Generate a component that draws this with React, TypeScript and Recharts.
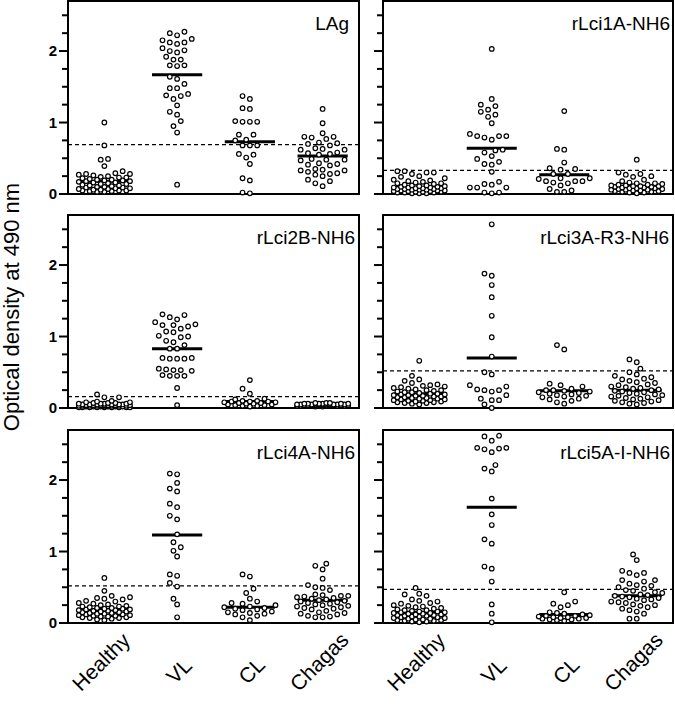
import React from "react";
import {
    ScatterChart,
    Scatter,
    XAxis,
    YAxis,
    ReferenceLine,
    ReferenceArea,
} from "recharts";

const CATEGORIES = ["Healthy", "VL", "CL", "Chagas"];
const TITLES = ["LAg", "rLci1A-NH6", "rLci2B-NH6", "rLci3A-R3-NH6", "rLci4A-NH6", "rLci5A-I-NH6"];
const Y_TICKS = [0, 0.25, 0.5, 0.75, 1, 1.25, 1.5, 1.75, 2, 2.25, 2.5];
const CUTOFFS = [0.69, 0.33, 0.16, 0.52, 0.52, 0.47];

// LAg
const lagHealthy = [1.0, 0.68, 0.49, 0.48, 0.39, 0.32, 0.29, 0.28, 0.28, 0.27, 0.26, 0.25, 0.24, 0.23, 0.23, 0.22, 0.21, 0.2, 0.2, 0.19, 0.19, 0.18, 0.18, 0.17, 0.16, 0.16, 0.15, 0.14, 0.14, 0.13, 0.12, 0.12, 0.11, 0.1, 0.1, 0.09, 0.09, 0.08, 0.08, 0.07, 0.07, 0.06, 0.06, 0.05, 0.05, 0.05, 0.04, 0.04, 0.03, 0.03];
const lagVL = [2.27, 2.25, 2.22, 2.17, 2.15, 2.12, 2.12, 2.1, 2.04, 2.01, 2.0, 1.98, 1.92, 1.88, 1.88, 1.8, 1.8, 1.79, 1.64, 1.61, 1.54, 1.48, 1.48, 1.4, 1.38, 1.37, 1.33, 1.24, 1.15, 1.11, 1.02, 0.95, 0.86, 0.13];
const lagCL = [1.37, 1.33, 1.2, 1.19, 1.02, 1.01, 1.01, 1.01, 0.83, 0.83, 0.76, 0.75, 0.68, 0.68, 0.68, 0.56, 0.55, 0.51, 0.42, 0.22, 0.19, 0.02, 0.01];
const lagChagas = [1.19, 0.99, 0.85, 0.8, 0.8, 0.79, 0.77, 0.72, 0.71, 0.7, 0.68, 0.64, 0.63, 0.62, 0.62, 0.58, 0.57, 0.56, 0.55, 0.49, 0.48, 0.48, 0.47, 0.43, 0.42, 0.41, 0.4, 0.35, 0.34, 0.33, 0.33, 0.31, 0.29, 0.28, 0.27, 0.25, 0.2, 0.18, 0.15, 0.11];
const lagMeans = [0.18, 1.67, 0.73, 0.53];

// rLci1A-NH6
const lci1aHealthy = [0.32, 0.32, 0.3, 0.3, 0.28, 0.25, 0.24, 0.22, 0.2, 0.19, 0.18, 0.17, 0.16, 0.15, 0.15, 0.14, 0.13, 0.12, 0.12, 0.11, 0.11, 0.1, 0.1, 0.09, 0.09, 0.09, 0.08, 0.08, 0.08, 0.07, 0.07, 0.07, 0.06, 0.06, 0.06, 0.05, 0.05, 0.05, 0.04, 0.04, 0.04, 0.03, 0.03, 0.03, 0.02, 0.02, 0.02, 0.01, 0.01, 0.01];
const lci1aVL = [2.03, 1.33, 1.25, 1.23, 1.18, 1.15, 1.11, 1.08, 0.99, 0.84, 0.81, 0.81, 0.81, 0.79, 0.76, 0.62, 0.61, 0.58, 0.53, 0.49, 0.45, 0.42, 0.41, 0.31, 0.17, 0.14, 0.13, 0.09, 0.09, 0.09, 0.02, 0.02, 0.01];
const lci1aCL = [1.16, 0.63, 0.62, 0.44, 0.36, 0.35, 0.34, 0.28, 0.28, 0.22, 0.22, 0.21, 0.18, 0.18, 0.18, 0.16, 0.15, 0.12, 0.07, 0.05, 0.03, 0.03];
const lci1aChagas = [0.48, 0.3, 0.28, 0.27, 0.25, 0.24, 0.2, 0.18, 0.16, 0.15, 0.15, 0.14, 0.13, 0.13, 0.12, 0.12, 0.11, 0.11, 0.11, 0.1, 0.1, 0.09, 0.09, 0.08, 0.08, 0.08, 0.07, 0.07, 0.06, 0.06, 0.06, 0.05, 0.05, 0.04, 0.04, 0.03, 0.03, 0.02, 0.02, 0.01];
const lci1aMeans = [0.09, 0.64, 0.27, 0.11];

// rLci2B-NH6
const lci2bHealthy = [0.19, 0.15, 0.15, 0.1, 0.09, 0.08, 0.08, 0.07, 0.07, 0.07, 0.06, 0.06, 0.06, 0.06, 0.05, 0.05, 0.05, 0.05, 0.05, 0.05, 0.04, 0.04, 0.04, 0.04, 0.04, 0.04, 0.04, 0.03, 0.03, 0.03, 0.03, 0.03, 0.03, 0.03, 0.02, 0.02, 0.02, 0.02, 0.02, 0.02, 0.02, 0.01, 0.01, 0.01, 0.01, 0.01, 0.01, 0.01, 0.01, 0.01];
const lci2bVL = [1.31, 1.3, 1.27, 1.24, 1.2, 1.17, 1.16, 1.16, 1.14, 1.11, 1.07, 1.06, 1.01, 1.0, 0.99, 0.94, 0.92, 0.88, 0.83, 0.83, 0.7, 0.7, 0.69, 0.69, 0.69, 0.55, 0.54, 0.53, 0.53, 0.52, 0.46, 0.45, 0.45, 0.45, 0.28, 0.04];
const lci2bCL = [0.39, 0.27, 0.2, 0.13, 0.12, 0.1, 0.1, 0.09, 0.09, 0.09, 0.08, 0.08, 0.07, 0.07, 0.06, 0.06, 0.05, 0.05, 0.04, 0.04, 0.03, 0.03, 0.02];
const lci2bChagas = [0.07, 0.07, 0.07, 0.06, 0.06, 0.06, 0.06, 0.06, 0.06, 0.05, 0.05, 0.05, 0.05, 0.05, 0.05, 0.05, 0.05, 0.05, 0.05, 0.05, 0.04, 0.04, 0.04, 0.04, 0.04, 0.04, 0.04, 0.04, 0.04, 0.04, 0.04, 0.03, 0.03, 0.03, 0.03, 0.03, 0.03, 0.03, 0.02, 0.02];
const lci2bMeans = [0.05, 0.83, 0.09, 0.05];

// rLci3A-R3-NH6
const lci3aHealthy = [0.66, 0.45, 0.4, 0.38, 0.35, 0.33, 0.32, 0.31, 0.3, 0.29, 0.28, 0.27, 0.26, 0.25, 0.25, 0.24, 0.23, 0.22, 0.22, 0.21, 0.2, 0.2, 0.19, 0.19, 0.18, 0.18, 0.17, 0.17, 0.16, 0.16, 0.15, 0.15, 0.14, 0.14, 0.13, 0.13, 0.12, 0.12, 0.11, 0.11, 0.1, 0.1, 0.09, 0.09, 0.08, 0.08, 0.07, 0.07, 0.06, 0.05];
const lci3aVL = [2.57, 1.88, 1.85, 1.72, 1.55, 1.29, 0.99, 0.72, 0.5, 0.47, 0.32, 0.3, 0.26, 0.25, 0.25, 0.23, 0.18, 0.13, 0.11, 0.11, 0.05, 0.0];
const lci3aCL = [0.88, 0.82, 0.34, 0.32, 0.3, 0.27, 0.25, 0.25, 0.24, 0.23, 0.22, 0.21, 0.2, 0.19, 0.18, 0.17, 0.16, 0.15, 0.13, 0.12, 0.1, 0.08, 0.06];
const lci3aChagas = [0.68, 0.64, 0.55, 0.5, 0.47, 0.45, 0.43, 0.41, 0.4, 0.38, 0.36, 0.35, 0.33, 0.32, 0.3, 0.29, 0.28, 0.27, 0.26, 0.25, 0.24, 0.23, 0.22, 0.21, 0.2, 0.19, 0.18, 0.17, 0.16, 0.15, 0.14, 0.13, 0.12, 0.11, 0.1, 0.09, 0.08, 0.07, 0.06, 0.05];
const lci3aMeans = [0.2, 0.7, 0.24, 0.25];

// rLci4A-NH6
const lci4aHealthy = [0.63, 0.45, 0.38, 0.36, 0.35, 0.34, 0.33, 0.31, 0.3, 0.28, 0.27, 0.26, 0.25, 0.24, 0.23, 0.23, 0.22, 0.21, 0.21, 0.2, 0.2, 0.19, 0.19, 0.18, 0.18, 0.17, 0.17, 0.16, 0.16, 0.15, 0.15, 0.14, 0.14, 0.13, 0.13, 0.12, 0.12, 0.11, 0.11, 0.1, 0.1, 0.09, 0.09, 0.08, 0.08, 0.07, 0.07, 0.06, 0.05, 0.04];
const lci4aVL = [2.09, 2.08, 1.96, 1.88, 1.84, 1.67, 1.62, 1.5, 1.45, 1.24, 1.13, 1.06, 1.01, 0.93, 0.68, 0.66, 0.56, 0.51, 0.34, 0.26, 0.08];
const lci4aCL = [0.68, 0.65, 0.48, 0.42, 0.34, 0.3, 0.28, 0.27, 0.25, 0.23, 0.22, 0.21, 0.2, 0.19, 0.18, 0.16, 0.15, 0.14, 0.13, 0.12, 0.1, 0.08, 0.04];
const lci4aChagas = [0.83, 0.8, 0.75, 0.62, 0.53, 0.5, 0.49, 0.46, 0.4, 0.39, 0.38, 0.38, 0.37, 0.36, 0.35, 0.34, 0.33, 0.32, 0.31, 0.3, 0.29, 0.28, 0.27, 0.26, 0.25, 0.24, 0.23, 0.22, 0.21, 0.2, 0.19, 0.17, 0.15, 0.14, 0.13, 0.12, 0.1, 0.09, 0.08, 0.08];
const lci4aMeans = [0.19, 1.23, 0.22, 0.32];

// rLci5A-I-NH6
const lci5aHealthy = [0.49, 0.41, 0.4, 0.38, 0.33, 0.31, 0.3, 0.28, 0.27, 0.25, 0.24, 0.23, 0.22, 0.21, 0.2, 0.19, 0.18, 0.18, 0.17, 0.16, 0.16, 0.15, 0.15, 0.14, 0.14, 0.13, 0.13, 0.12, 0.12, 0.11, 0.11, 0.1, 0.1, 0.09, 0.09, 0.08, 0.08, 0.07, 0.07, 0.06, 0.06, 0.05, 0.05, 0.04, 0.04, 0.03, 0.03, 0.02, 0.02, 0.01];
const lci5aVL = [2.62, 2.61, 2.55, 2.45, 2.45, 2.44, 2.43, 2.39, 2.21, 2.16, 2.12, 1.74, 1.52, 1.37, 1.17, 1.11, 0.79, 0.76, 0.58, 0.26, 0.13, 0.01];
const lci5aCL = [0.43, 0.3, 0.27, 0.25, 0.22, 0.15, 0.14, 0.13, 0.12, 0.11, 0.1, 0.1, 0.09, 0.08, 0.08, 0.07, 0.07, 0.06, 0.06, 0.05, 0.05, 0.04, 0.03];
const lci5aChagas = [0.96, 0.88, 0.73, 0.7, 0.7, 0.67, 0.6, 0.6, 0.58, 0.55, 0.53, 0.52, 0.5, 0.48, 0.46, 0.45, 0.43, 0.42, 0.4, 0.39, 0.38, 0.37, 0.36, 0.35, 0.34, 0.33, 0.32, 0.3, 0.29, 0.28, 0.26, 0.25, 0.24, 0.22, 0.2, 0.18, 0.16, 0.13, 0.06, 0.06];
const lci5aMeans = [0.15, 1.62, 0.12, 0.38];

const PANELS = [
    { groups: [lagHealthy, lagVL, lagCL, lagChagas], means: lagMeans },
    { groups: [lci1aHealthy, lci1aVL, lci1aCL, lci1aChagas], means: lci1aMeans },
    { groups: [lci2bHealthy, lci2bVL, lci2bCL, lci2bChagas], means: lci2bMeans },
    { groups: [lci3aHealthy, lci3aVL, lci3aCL, lci3aChagas], means: lci3aMeans },
    { groups: [lci4aHealthy, lci4aVL, lci4aCL, lci4aChagas], means: lci4aMeans },
    { groups: [lci5aHealthy, lci5aVL, lci5aCL, lci5aChagas], means: lci5aMeans },
];

const FONT = "'Liberation Sans', Arial, Helvetica, sans-serif";
const Y_MAX = 2.7;
const PLOT_H = 193;
const BAND = 72.6; // px per category
const ROW_TOPS = [1, 215, 430];
const STEP = 3.65;
const MIN_DIST = 6.5;
const MAX_K = 7;
const LABEL_SIZE = 21;

// beeswarm-style spreading, done in pixel space, returned in axis units
const spread = (values: number[], gi: number) => {
    const pxPerY = PLOT_H / Y_MAX;
    const order = values.map((_, i) => i).sort((a, b) => values[a] - values[b]);
    const placed: { x: number; y: number }[] = [];
    const cands: number[] = [0];
    for (let k = 1; k <= MAX_K; k++) cands.push(-k, k);
    return order.map((i) => {
        const y = values[i] * pxPerY;
        let best = 0;
        let bestScore = -1;
        for (const k of cands) {
            const x = k * STEP;
            let minD = Infinity;
            for (const p of placed) {
                const d = Math.hypot(p.x - x, p.y - y);
                if (d < minD) minD = d;
            }
            if (minD >= MIN_DIST) {
                best = x;
                break;
            }
            if (minD > bestScore) {
                bestScore = minD;
                best = x;
            }
        }
        placed.push({ x: best, y });
        return { x: gi + 0.5 + best / BAND, y: values[i] };
    });
};

let ctx: CanvasRenderingContext2D | null = null;
const textWidth = (s: string) => {
    if (!ctx) ctx = document.createElement("canvas").getContext("2d");
    if (!ctx) return s.length * LABEL_SIZE * 0.52;
    ctx.font = `${LABEL_SIZE}px ${FONT}`;
    return ctx.measureText(s).width;
};

const dot = (p: any) => (
    <circle cx={p.cx} cy={p.cy} r={2.3} fill="#fff" stroke="#000" strokeWidth={1.2} />
);

const Panel = ({ index }: { index: number }) => {
    const col = index % 2;
    const row = Math.floor(index / 2);
    const isBottom = row === 2;
    const axisW = col === 0 ? 68 : 23;
    const width = col === 0 ? 360 : 314;
    const height = 1 + PLOT_H + (isBottom ? 82 : 12);
    const panel = PANELS[index];
    const points = panel.groups.flatMap((g, gi) => spread(g, gi));
    const axisY = 1 + PLOT_H;

    const yTick = (props: any) => {
        const { y, payload } = props;
        const major = Number.isInteger(payload.value);
        return (
            <g>
                <line x1={axisW - (major ? 9 : 6)} x2={axisW} y1={y} y2={y} stroke="#000" strokeWidth={2} />
                {col === 0 && major && (
                    <text x={axisW - 11} y={y} dy="0.36em" textAnchor="end" fontSize={15} fontWeight="bold" fontFamily={FONT} fill="#000">
                        {payload.value}
                    </text>
                )}
            </g>
        );
    };

    const xTick = (props: any) => {
        const { x, payload } = props;
        const label = CATEGORIES[Math.round(payload.value - 0.5)];
        const w = textWidth(label);
        const ex = x + 10 + 0.24 * w;
        const ey = axisY + 58 - 0.55 * w;
        return (
            <text x={ex} y={ey} textAnchor="end" fontSize={LABEL_SIZE} fontFamily={FONT} fill="#000" transform={`rotate(-45 ${ex} ${ey})`}>
                {label}
            </text>
        );
    };

    return (
        <div style={{ position: "absolute", left: col === 0 ? 0 : 360, top: ROW_TOPS[row] - 1 }}>
            <ScatterChart width={width} height={height} margin={{ top: 1, right: 1, bottom: isBottom ? 0 : 12, left: 0 }}>
                <XAxis
                    type="number"
                    dataKey="x"
                    domain={[0, 4]}
                    ticks={[0.5, 1.5, 2.5, 3.5]}
                    interval={0}
                    hide={!isBottom}
                    height={82}
                    axisLine={false}
                    tickLine={false}
                    tick={xTick}
                />
                <YAxis
                    type="number"
                    dataKey="y"
                    domain={[0, Y_MAX]}
                    ticks={Y_TICKS}
                    interval={0}
                    width={axisW}
                    axisLine={false}
                    tickLine={false}
                    tick={yTick}
                />
                <ReferenceArea x1={0} x2={4} y1={0} y2={Y_MAX} fill="none" stroke="#000" strokeWidth={2} />
                <ReferenceLine y={CUTOFFS[index]} stroke="#000" strokeWidth={1.2} strokeDasharray="4 3" />
                <Scatter data={points} shape={dot} isAnimationActive={false} />
                {panel.means.map((m, i) => (
                    <ReferenceLine
                        key={i}
                        segment={[{ x: i + 0.5 - 0.345, y: m }, { x: i + 0.5 + 0.345, y: m }]}
                        stroke="#000"
                        strokeWidth={3}
                    />
                ))}
            </ScatterChart>
        </div>
    );
};

const TITLE_X = [349, 670, 355, 669, 355, 670];

export default function App() {
    return (
        <div style={{ position: "absolute", left: 0, top: 0, width: 675, height: 705, background: "#fff", overflow: "hidden" }}>
            {PANELS.map((_, i) => (
                <Panel key={i} index={i} />
            ))}
            <svg width={675} height={705} style={{ position: "absolute", left: 0, top: 0, pointerEvents: "none" }}>
                <text x={19} y={307} textAnchor="middle" fontSize={22} fontFamily={FONT} fill="#000" transform="rotate(-90 19 307)">
                    Optical density at 490 nm
                </text>
                {TITLES.map((t, i) => (
                    <text key={t} x={TITLE_X[i]} y={ROW_TOPS[Math.floor(i / 2)] + 29} textAnchor="end" fontSize={19} fontFamily={FONT} fill="#000">
                        {t}
                    </text>
                ))}
            </svg>
        </div>
    );
}
